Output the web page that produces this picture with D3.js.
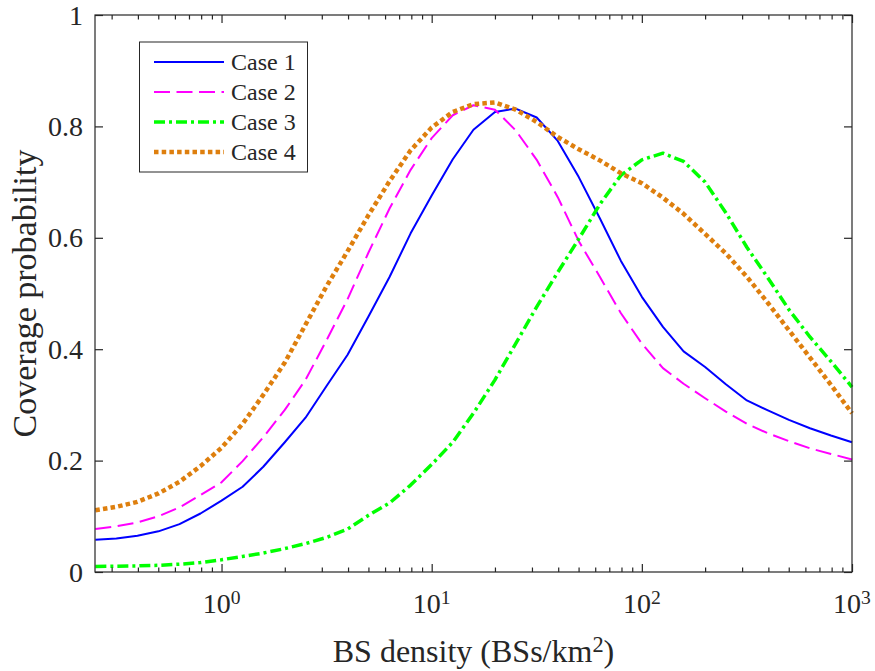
<!DOCTYPE html>
<html>
<head>
<meta charset="utf-8">
<script src="https://cdn.jsdelivr.net/npm/d3@7"></script>
<style>
  body { margin: 0; background: #fff; }
  text { font-family: "Liberation Serif", "Times New Roman", Times, serif; fill: #262626; }
</style>
</head>
<body>
<svg id="chart" width="875" height="671"></svg>
<script>
// ---------------- DATA ----------------
const density = [0.251, 0.316, 0.398, 0.501, 0.631, 0.794, 1, 1.26, 1.58, 2, 2.51, 3.16, 3.98, 5.01, 6.31, 7.94,
  10, 12.6, 15.8, 20, 25.1, 31.6, 39.8, 50.1, 63.1, 79.4, 100, 126, 158, 200, 251, 316, 398, 501, 631, 794, 1000];

const case1 = [0.058, 0.060, 0.065, 0.073, 0.086, 0.105, 0.128, 0.153, 0.189, 0.233, 0.277, 0.334, 0.390, 0.459, 0.530, 0.608,
  0.676, 0.741, 0.794, 0.826, 0.832, 0.816, 0.774, 0.709, 0.635, 0.559, 0.494, 0.440, 0.396, 0.368, 0.337, 0.308, 0.290, 0.273, 0.258, 0.245, 0.233];

const case2 = [0.077, 0.082, 0.089, 0.100, 0.116, 0.138, 0.161, 0.199, 0.242, 0.291, 0.345, 0.416, 0.490, 0.574, 0.653, 0.722,
  0.779, 0.820, 0.838, 0.830, 0.793, 0.740, 0.673, 0.594, 0.530, 0.465, 0.410, 0.366, 0.338, 0.312, 0.288, 0.266, 0.249, 0.235, 0.222, 0.212, 0.202];

const case3 = [0.010, 0.0105, 0.011, 0.012, 0.014, 0.017, 0.022, 0.028, 0.034, 0.042, 0.051, 0.062, 0.077, 0.102, 0.124, 0.156,
  0.193, 0.233, 0.285, 0.345, 0.410, 0.476, 0.538, 0.598, 0.660, 0.712, 0.740, 0.752, 0.737, 0.700, 0.645, 0.583, 0.528, 0.471, 0.422, 0.378, 0.332];

const case4 = [0.111, 0.117, 0.126, 0.141, 0.162, 0.190, 0.223, 0.266, 0.318, 0.376, 0.444, 0.513, 0.576, 0.641, 0.702, 0.757,
  0.798, 0.826, 0.840, 0.843, 0.830, 0.808, 0.781, 0.759, 0.739, 0.716, 0.698, 0.672, 0.643, 0.607, 0.572, 0.530, 0.483, 0.434, 0.385, 0.336, 0.285];

const seriesNames = ["Case 1", "Case 2", "Case 3", "Case 4"];
const yTicks = [0, 0.2, 0.4, 0.6, 0.8, 1];
const yTickLabels = ["0", "0.2", "0.4", "0.6", "0.8", "1"];
const xMajor = [1, 10, 100, 1000];
const xMajorExp = ["0", "1", "2", "3"];
const xLabel = "BS density (BSs/km";
const yLabel = "Coverage probability";

// ---------------- STYLES ----------------
const styles = [
  { color: "#0000FF", width: 2, dash: null },
  { color: "#FF00FF", width: 2, dash: "16,6.5" },
  { color: "#00FF00", width: 3.5, dash: "11,4,3,4" },
  { color: "#DE7F0E", width: 4.5, dash: "4.5,3.2" }
];
const axisColor = "#262626";
const tickFont = 28;
const xLabelFont = 32;
const yLabelFont = 34;
const legendFont = 24;

// ---------------- CHART ----------------
const svg = d3.select("#chart");
const m = { l: 95, r: 852, t: 15, b: 572 };
const x = d3.scaleLog().domain([0.25, 1000]).range([m.l, m.r]);
const y = d3.scaleLinear().domain([0, 1]).range([m.b, m.t]);

const allSeries = [case1, case2, case3, case4];
const line = d3.line().x(d => x(d[0])).y(d => y(d[1]));

const linesG = svg.append("g");
allSeries.forEach((s, i) => {
  const pts = density.map((dv, j) => [dv, s[j]]);
  linesG.append("path")
    .attr("d", line(pts))
    .attr("fill", "none")
    .attr("stroke", styles[i].color)
    .attr("stroke-width", styles[i].width)
    .attr("stroke-dasharray", styles[i].dash)
    .attr("stroke-linejoin", "round");
});

// axes (ticks inward, on all sides)
function styleAxis(g) {
  g.select(".domain").remove();
  g.selectAll("line").attr("stroke", axisColor).attr("stroke-width", 1.2);
  g.selectAll("text").remove();
}
const minor = x.ticks().filter(v => !xMajor.includes(v));

svg.append("g").attr("transform", `translate(0,${m.b})`)
  .call(d3.axisBottom(x).tickValues(xMajor).tickSize(-8)).call(styleAxis);
svg.append("g").attr("transform", `translate(0,${m.b})`)
  .call(d3.axisBottom(x).tickValues(minor).tickSize(-4.5)).call(styleAxis);
svg.append("g").attr("transform", `translate(0,${m.t})`)
  .call(d3.axisTop(x).tickValues(xMajor).tickSize(-8)).call(styleAxis);
svg.append("g").attr("transform", `translate(0,${m.t})`)
  .call(d3.axisTop(x).tickValues(minor).tickSize(-4.5)).call(styleAxis);
svg.append("g").attr("transform", `translate(${m.l},0)`)
  .call(d3.axisLeft(y).tickValues(yTicks).tickSize(-8)).call(styleAxis);
svg.append("g").attr("transform", `translate(${m.r},0)`)
  .call(d3.axisRight(y).tickValues(yTicks).tickSize(-8)).call(styleAxis);

svg.append("rect")
  .attr("x", m.l).attr("y", m.t)
  .attr("width", m.r - m.l).attr("height", m.b - m.t)
  .attr("fill", "none").attr("stroke", axisColor).attr("stroke-width", 1.2);

// y tick labels
svg.append("g").selectAll("text").data(yTicks).join("text")
  .attr("x", m.l - 12)
  .attr("y", d => y(d))
  .attr("dy", "0.34em")
  .attr("text-anchor", "end")
  .attr("font-size", tickFont)
  .text((d, i) => yTickLabels[i]);

// x tick labels 10^n
const xl = svg.append("g").selectAll("text").data(xMajor).join("text")
  .attr("x", d => x(d))
  .attr("y", 613)
  .attr("text-anchor", "middle")
  .attr("font-size", tickFont);
xl.append("tspan").text("10");
xl.append("tspan").attr("dy", "-0.45em").attr("font-size", tickFont * 0.7).text((d, i) => xMajorExp[i]);

// axis labels
const xt = svg.append("text")
  .attr("x", (m.l + m.r) / 2).attr("y", 662)
  .attr("text-anchor", "middle")
  .attr("font-size", xLabelFont);
xt.append("tspan").text(xLabel);
xt.append("tspan").attr("dy", "-0.45em").attr("font-size", xLabelFont * 0.7).text("2");
xt.append("tspan").attr("dy", "0.315em").text(")");

svg.append("text")
  .attr("transform", `translate(36,${(m.t + m.b) / 2}) rotate(-90)`)
  .attr("text-anchor", "middle")
  .attr("font-size", yLabelFont)
  .text(yLabel);

// legend
const lg = svg.append("g");
lg.append("rect")
  .attr("x", 139.5).attr("y", 42)
  .attr("width", 168).attr("height", 130)
  .attr("fill", "#fff").attr("stroke", axisColor).attr("stroke-width", 1);
seriesNames.forEach((name, i) => {
  const yy = 62 + i * 30;
  lg.append("line")
    .attr("x1", 154).attr("x2", 224).attr("y1", yy).attr("y2", yy)
    .attr("stroke", styles[i].color)
    .attr("stroke-width", styles[i].width)
    .attr("stroke-dasharray", styles[i].dash);
  lg.append("text")
    .attr("x", 231).attr("y", yy).attr("dy", "0.34em")
    .attr("font-size", legendFont)
    .text(name);
});
</script>
</body>
</html>
